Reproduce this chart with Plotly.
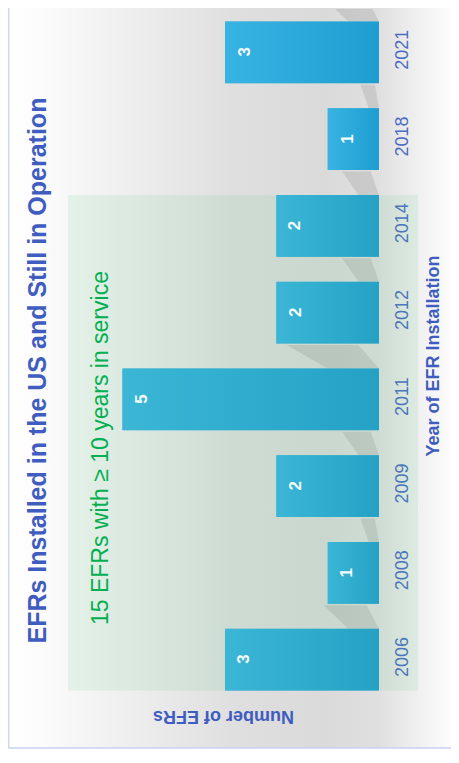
import base64
import plotly.graph_objects as go

# ---------------- data ----------------
years = ["2006", "2008", "2009", "2011", "2012", "2014", "2018", "2021"]
counts = [3, 1, 2, 5, 2, 2, 1, 3]
chart_title = "EFRs Installed in the US and Still in Operation"
note_text = "15 EFRs with \u2265 10 years in service"
value_title = "Number of EFRs"
year_title = "Year of EFR Installation"
highlight_until = "2014"   # last year of the ">= 10 years in service" group

# ---------------- geometry / style ----------------
OFF = 8                      # page body margin of the html page
W, H = 459 - OFF, 763 - OFF
L, R, T, B = 60, 80, 1, 60
PW, PH = W - L - R, H - T - B
XMAX = 6.06
BW = 0.714
FONT = "Liberation Sans Narrow, Arial Narrow, Liberation Sans, Arial, sans-serif"
BLUE = "#3f5cc0"
TICKBLUE = "#4a6bc2"


def fx(px):
    """window pixel column -> paper x"""
    return (px - OFF - L) / PW


def fy(py):
    """window pixel row -> paper y"""
    return (H - B - (py - OFF)) / PH


def cat_fy(c):
    """category position (index) -> paper y"""
    return (c + 0.5) / len(years)


def grad_uri(stops):
    st = "".join(f'<stop offset="{o}" stop-color="{c}"/>' for o, c in stops)
    svg = ('<svg xmlns="http://www.w3.org/2000/svg" width="100" height="100" '
           'viewBox="0 0 100 100" preserveAspectRatio="none"><defs>'
           f'<linearGradient id="g" x1="0" y1="0" x2="1" y2="0">{st}</linearGradient>'
           '</defs><rect x="0" y="0" width="100" height="100" fill="url(#g)"/></svg>')
    return "data:image/svg+xml;base64," + base64.b64encode(svg.encode()).decode()


fig = go.Figure(
    go.Bar(
        x=counts, y=years, orientation="h", width=BW,
        marker=dict(color="#2aa8d8", line=dict(width=0)),
        hoverinfo="skip",
    )
)

# background gradient
bg = grad_uri([(0, "#ffffff"), (0.08, "#fbfbfb"), (0.5, "#dfdfdf"),
               (0.7, "#dadada"), (0.82, "#dfdfdf"), (0.92, "#f2f2f2"), (1, "#ffffff")])
fig.add_layout_image(dict(source=bg, xref="paper", yref="paper",
                          x=fx(8), y=fy(0), sizex=(459 - 8) / PW, sizey=748 / PH,
                          xanchor="left", yanchor="top", sizing="stretch", layer="below"))

# gradient fill of each bar (light at the tip, darker at the base)
bar_grad = grad_uri([(0, "#38b4e3"), (1, "#1e9dd0")])
for i, v in enumerate(counts):
    fig.add_layout_image(dict(source=bar_grad, xref="x", yref="y",
                              x=v, y=i + BW / 2, sizex=v, sizey=BW,
                              xanchor="left", yanchor="top", sizing="stretch",
                              layer="above"))

shapes = []
# frame
shapes.append(dict(type="rect", xref="paper", yref="paper", x0=fx(8.8), x1=fx(470),
                   y0=fy(748), y1=fy(-10), line=dict(color="#c9d1f2", width=1.3),
                   fillcolor="rgba(0,0,0,0)", layer="above"))
# bar shadows
for i, v in enumerate(counts):
    yb = i + BW / 2
    yt = yb + 0.27
    path = (f"M 0 {yb} L {0.2 * v} {yb} L {0.36 * v} {yt} L {0.08 * v} {yt} Z")
    shapes.append(dict(type="path", path=path, xref="x", yref="y",
                       fillcolor="rgba(90,90,90,0.15)", line=dict(width=0), layer="below"))
# green highlight region
hi = years.index(highlight_until)
shapes.append(dict(type="rect", xref="paper", yref="paper", x0=fx(68), x1=fx(418),
                   y0=cat_fy(-BW / 2), y1=cat_fy(hi + BW / 2),
                   fillcolor="rgba(80,200,120,0.12)", line=dict(width=0), layer="above"))

annotations = []
for i, v in enumerate(counts):
    annotations.append(dict(x=v, y=i, xref="x", yref="y", text=f"<b>{v}</b>",
                            showarrow=False, textangle=-90, xshift=19,
                            xanchor="center", yanchor="middle",
                            font=dict(family=FONT, size=17, color="#f4fbfd")))
annotations.append(dict(x=fx(36), y=fy(370.5), xref="paper", yref="paper",
                        text=f"<b>{chart_title}</b>", showarrow=False, textangle=-90,
                        xanchor="center", yanchor="middle",
                        font=dict(family=FONT, size=25, color=BLUE)))
annotations.append(dict(x=fx(100), y=fy(448), xref="paper", yref="paper",
                        text=note_text, showarrow=False, textangle=-90,
                        xanchor="center", yanchor="middle",
                        font=dict(family=FONT, size=23, color="#00b050")))
annotations.append(dict(x=0.5, y=fy(717), xref="paper", yref="paper",
                        text=f"<b>{value_title}</b>", showarrow=False, textangle=180,
                        xanchor="center", yanchor="middle",
                        font=dict(family=FONT, size=18, color=BLUE)))

fig.update_layout(
    width=W, height=H, margin=dict(l=L, r=R, t=T, b=B),
    paper_bgcolor="white", plot_bgcolor="rgba(0,0,0,0)",
    showlegend=False, shapes=shapes, annotations=annotations,
    xaxis=dict(range=[XMAX, 0], showticklabels=False, showgrid=False,
               zeroline=False, showline=False, ticks=""),
    yaxis=dict(type="category", categoryorder="array", categoryarray=years,
               range=[-0.5, len(years) - 0.5], side="right", tickangle=-90,
               showgrid=False, zeroline=False, showline=False, ticks="",
               ticklabelstandoff=10,
               tickfont=dict(family=FONT, size=18, color=TICKBLUE),
               title=dict(text=f"<b>{year_title}</b>", standoff=15,
                          font=dict(family=FONT, size=18, color=BLUE))),
)

fig.write_html("out.html")
